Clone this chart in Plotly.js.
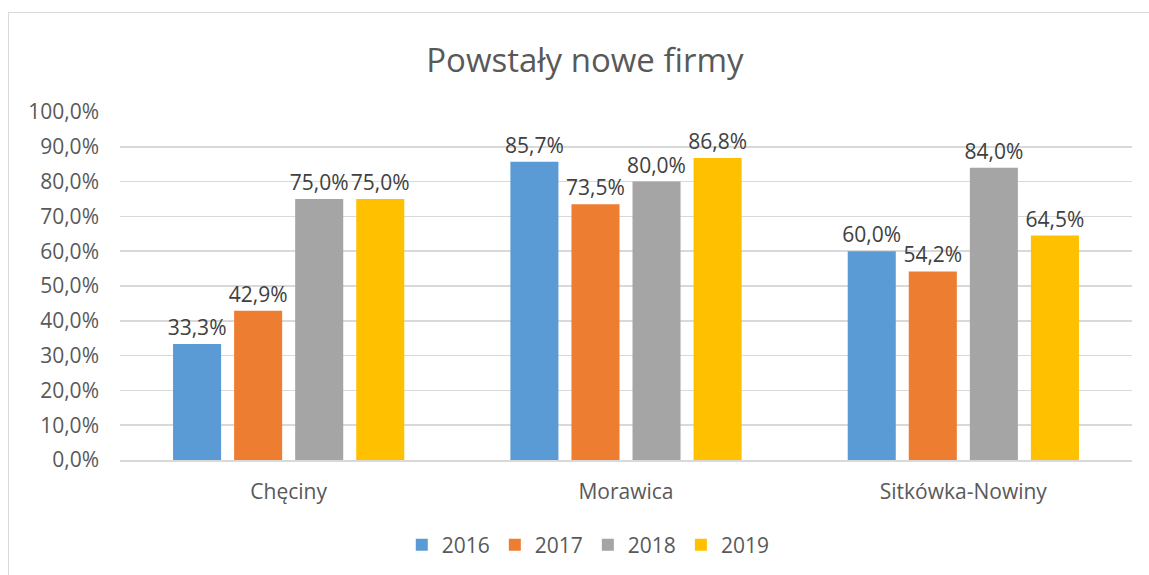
<!DOCTYPE html>
<html><head><meta charset="utf-8">
<script src="https://cdn.plot.ly/plotly-3.0.1.min.js"></script>
<style>html,body{margin:0;padding:0;background:#fff;}
#wrap{position:relative;width:1149px;height:575px;overflow:hidden;}
#chart{width:1149px;height:575px;}
#frame{position:absolute;left:8px;top:12px;width:1160px;height:580px;border-left:1.5px solid #d9d9d9;border-top:1.5px solid #d9d9d9;pointer-events:none;}
</style></head>
<body><div id="wrap"><div id="chart"></div><div id="frame"></div></div>
<script>
const categories = ['Chęciny', 'Morawica', 'Sitkówka-Nowiny'];
const years = ['2016', '2017', '2018', '2019'];
const v2016 = [0.333, 0.857, 0.600];
const v2017 = [0.429, 0.735, 0.542];
const v2018 = [0.750, 0.800, 0.840];
const v2019 = [0.750, 0.868, 0.645];
const colors = ['#5b9bd5', '#ed7d31', '#a5a5a5', '#ffc000'];
const series = [v2016, v2017, v2018, v2019];
const FONT = '"Open Sans", sans-serif';
const traces = series.map((vals, i) => ({
  type: 'bar', name: years[i], x: categories, y: vals,
  marker: {color: colors[i]},
  texttemplate: '%{y:.1%}', textposition: 'outside', cliponaxis: false,
  constraintext: 'none',
  textfont: {family: FONT, size: 21, color: '#404040'},
  hoverinfo: 'skip'
}));
const layout = {
  width: 1149, height: 575,
  margin: {l: 120, r: 17, t: 112, b: 115},
  paper_bgcolor: '#ffffff', plot_bgcolor: '#ffffff',
  separators: ', ',
  font: {family: FONT, color: '#595959', size: 21},
  title: {text: 'Powstały nowe firmy', x: 0.509, xanchor: 'center', y: 0.895, yanchor: 'middle',
          font: {family: FONT, size: 33, color: '#595959'}},
  barmode: 'group', bargap: 0.276, bargroupgap: 0.213,
  xaxis: {showgrid: false, showline: true, linecolor: '#d9d9d9', linewidth: 1.5,
          ticks: '', ticklabelstandoff: 12, tickfont: {family: FONT, size: 21, color: '#595959'}},
  yaxis: {range: [0, 1], dtick: 0.1, tickformat: '.1%', showgrid: true, gridcolor: '#d9d9d9', gridwidth: 1.5,
          zeroline: false, showline: false, ticks: '', ticklabelstandoff: 20,
          tickfont: {family: FONT, size: 21, color: '#595959'}},
  showlegend: true,
  legend: {orientation: 'h', xref: 'container', yref: 'container', x: 0.512, xanchor: 'center',
           y: 0.052, yanchor: 'middle', font: {family: FONT, size: 21, color: '#595959'},
           itemwidth: 30, traceorder: 'normal'}
};
Plotly.newPlot('chart', traces, layout, {displayModeBar: false, staticPlot: true});
</script></body></html>
